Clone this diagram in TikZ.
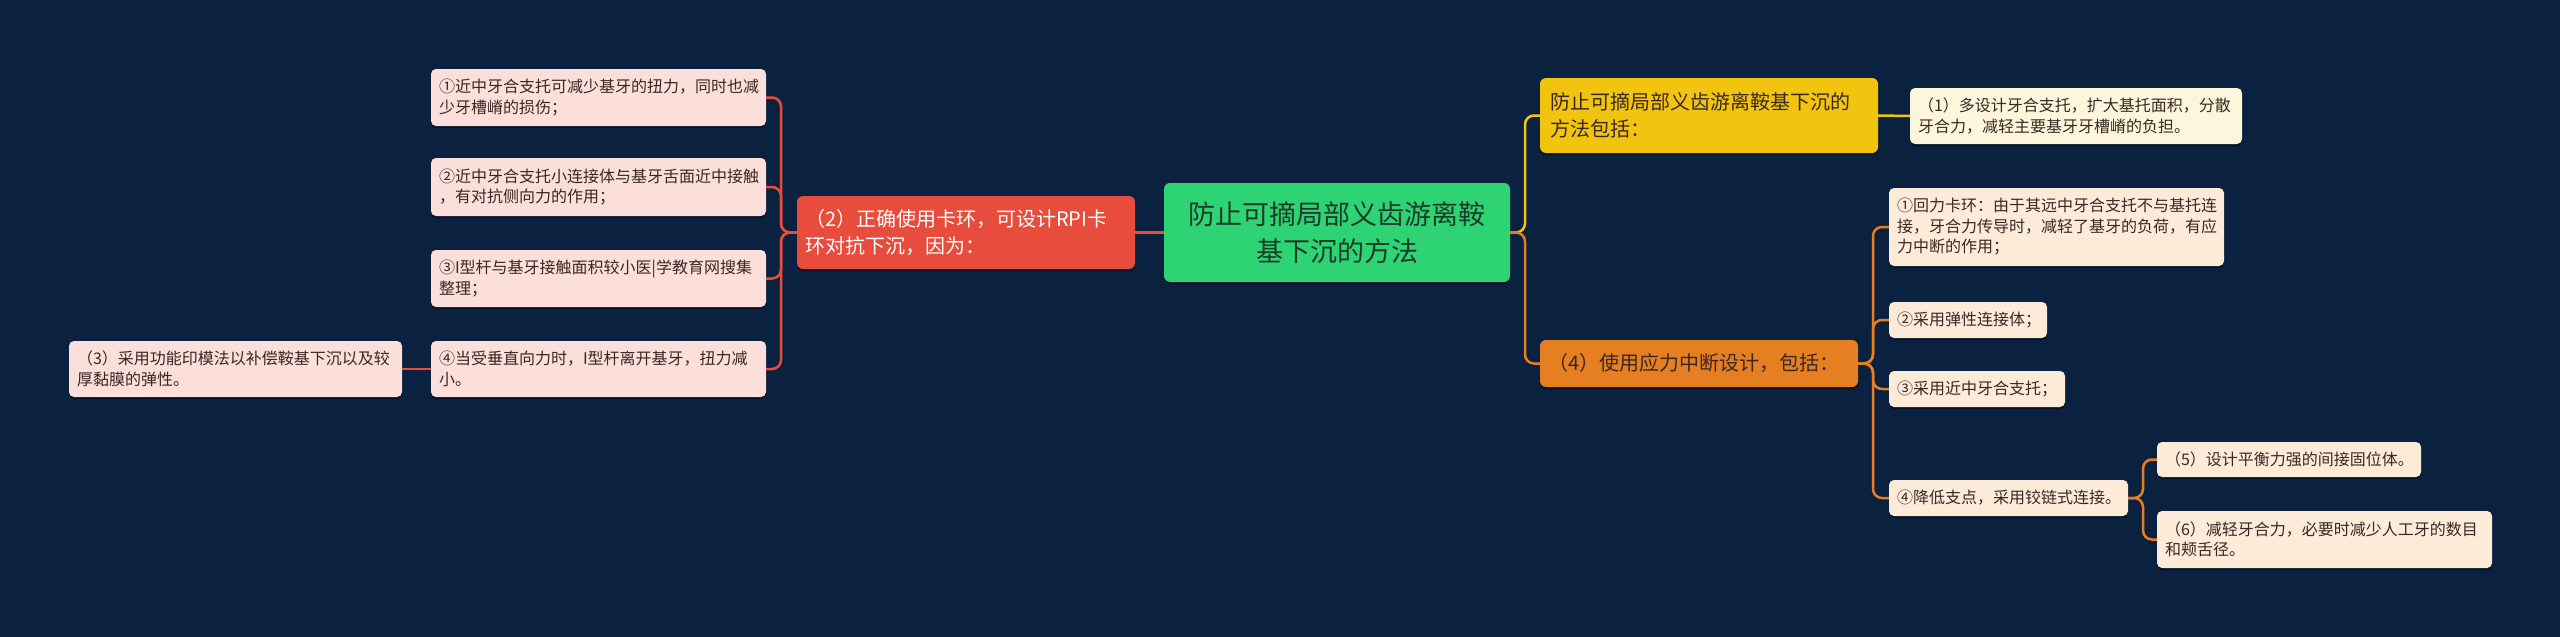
\documentclass[tikz,border=0pt]{standalone}
\usepackage{fontspec}
\setmainfont{Noto Sans CJK SC}
\usetikzlibrary{shadows}
\definecolor{bg}{RGB}{10,34,64}
\definecolor{cgreen}{RGB}{46,212,116}
\definecolor{cred}{RGB}{231,76,60}
\definecolor{cyel}{RGB}{241,196,15}
\definecolor{corg}{RGB}{230,126,34}
\definecolor{cpink}{RGB}{252,223,219}
\definecolor{ccream}{RGB}{253,235,218}
\definecolor{clight}{RGB}{254,246,220}
\definecolor{txtdark}{RGB}{58,40,36}
\definecolor{txtgreen}{RGB}{28,58,40}
\newcommand\leaffont{\fontsize{16pt}{20.5pt}\selectfont}
\newcommand\midfont{\fontsize{20pt}{26.5pt}\selectfont}
\newcommand\bigfont{\fontsize{27pt}{37pt}\selectfont}
\begin{document}
\begin{tikzpicture}[x=1pt,y=-1pt,
  box/.style={anchor=north west, rounded corners=5pt, inner xsep=8pt, inner ysep=0pt,
    outer sep=0pt, align=left, text=txtdark,
    drop shadow={shadow xshift=0pt, shadow yshift=-2pt, opacity=0.45, fill=black}},
  leafL/.style={box, fill=cpink, font=\leaffont},
  leafR/.style={box, fill=ccream, font=\leaffont},
  leafY/.style={box, fill=clight, font=\leaffont},
  link/.style={line width=2.5pt, rounded corners=9pt}]
\fill[bg] (0,0) rectangle (2560,637);
\useasboundingbox (0,0) rectangle (2560,637);

% connectors (drawn first, boxes on top)
\coordinate (cE) at (1510,233);
\coordinate (cW) at (1164,233);

% central topic
\node[box, fill=cgreen, rounded corners=6pt, font=\bigfont, text=txtgreen, align=center,
  minimum width=346pt, minimum height=99pt, text width=330pt] (center) at (1164,183)
  {防止可摘局部义齿游离鞍\\基下沉的方法};

% left branch
\node[box, fill=cred, rounded corners=6pt, font=\midfont, text=white,
  minimum width=338pt, minimum height=73pt, text width=322pt] (n2) at (797,196)
  {（2）正确使用卡环，可设计RPI卡\\环对抗下沉，因为：};
\node[leafL, minimum width=335pt, minimum height=57pt, text width=319pt] (l1) at (431,69)
  {①近中牙合支托可减少基牙的扭力，同时也减\\少牙槽嵴的损伤；};
\node[leafL, minimum width=335pt, minimum height=58pt, text width=319pt] (l2) at (431,158)
  {②近中牙合支托小连接体与基牙舌面近中接触\\，有对抗侧向力的作用；};
\node[leafL, minimum width=335pt, minimum height=57pt, text width=319pt] (l3) at (431,250)
  {③I型杆与基牙接触面积较小医|学教育网搜集\\整理；};
\node[leafL, minimum width=335pt, minimum height=56pt, text width=319pt] (l4) at (431,341)
  {④当受垂直向力时，I型杆离开基牙，扭力减\\小。};
\node[leafL, minimum width=333pt, minimum height=56pt, text width=317pt] (l5) at (69,341)
  {（3）采用功能印模法以补偿鞍基下沉以及较\\厚黏膜的弹性。};

% right branch: yellow
\node[box, fill=cyel, rounded corners=6pt, font=\midfont, inner xsep=10pt,
  minimum width=338pt, minimum height=75pt, text width=318pt] (yel) at (1540,78)
  {防止可摘局部义齿游离鞍基下沉的\\方法包括：};
\node[leafY, minimum width=332pt, minimum height=56pt, text width=316pt] (y1) at (1910,88)
  {（1）多设计牙合支托，扩大基托面积，分散\\牙合力，减轻主要基牙牙槽嵴的负担。};

% right branch: orange
\node[box, fill=corg, rounded corners=6pt, font=\midfont, inner xsep=8pt,
  minimum width=318pt, minimum height=47pt, text width=302pt] (org) at (1540,340)
  {（4）使用应力中断设计，包括：};
\node[leafR, minimum width=335pt, minimum height=78pt, text width=319pt] (r1) at (1889,188)
  {①回力卡环：由于其远中牙合支托不与基托连\\接，牙合力传导时，减轻了基牙的负荷，有应\\力中断的作用；};
\node[leafR, minimum width=158pt, minimum height=36pt, text width=142pt] (r2) at (1889,302)
  {②采用弹性连接体；};
\node[leafR, minimum width=176pt, minimum height=36pt, text width=160pt] (r3) at (1889,371)
  {③采用近中牙合支托；};
\node[leafR, minimum width=239pt, minimum height=36pt, text width=223pt] (r4) at (1889,480)
  {④降低支点，采用铰链式连接。};
\node[leafR, minimum width=264pt, minimum height=35pt, text width=248pt] (r5) at (2157,442)
  {（5）设计平衡力强的间接固位体。};
\node[leafR, minimum width=335pt, minimum height=57pt, text width=319pt] (r6) at (2157,511)
  {（6）减轻牙合力，必要时减少人工牙的数目\\和颊舌径。};

% connectors
\draw[link, cred] (center.west) -- (n2.east);
\foreach \t in {l1,l2,l3,l4}
  \draw[link, cred] (n2.west) -- ++(-16,0) |- (\t.east);
\draw[link, cred] (l4.west) -- (l5.east);

\draw[link, cyel] (center.east) -- ++(15,0) |- (yel.west);
\draw[link, cyel] (yel.east) -- (y1.west);
\draw[link, corg] (center.east) -- ++(15,0) |- (org.west);

\foreach \t in {r1,r2,r3,r4}
  \draw[link, corg] (org.east) -- ++(15,0) |- (\t.west);
\foreach \t in {r5,r6}
  \draw[link, corg] (r4.east) -- ++(15,0) |- (\t.west);
\end{tikzpicture}
\end{document}
